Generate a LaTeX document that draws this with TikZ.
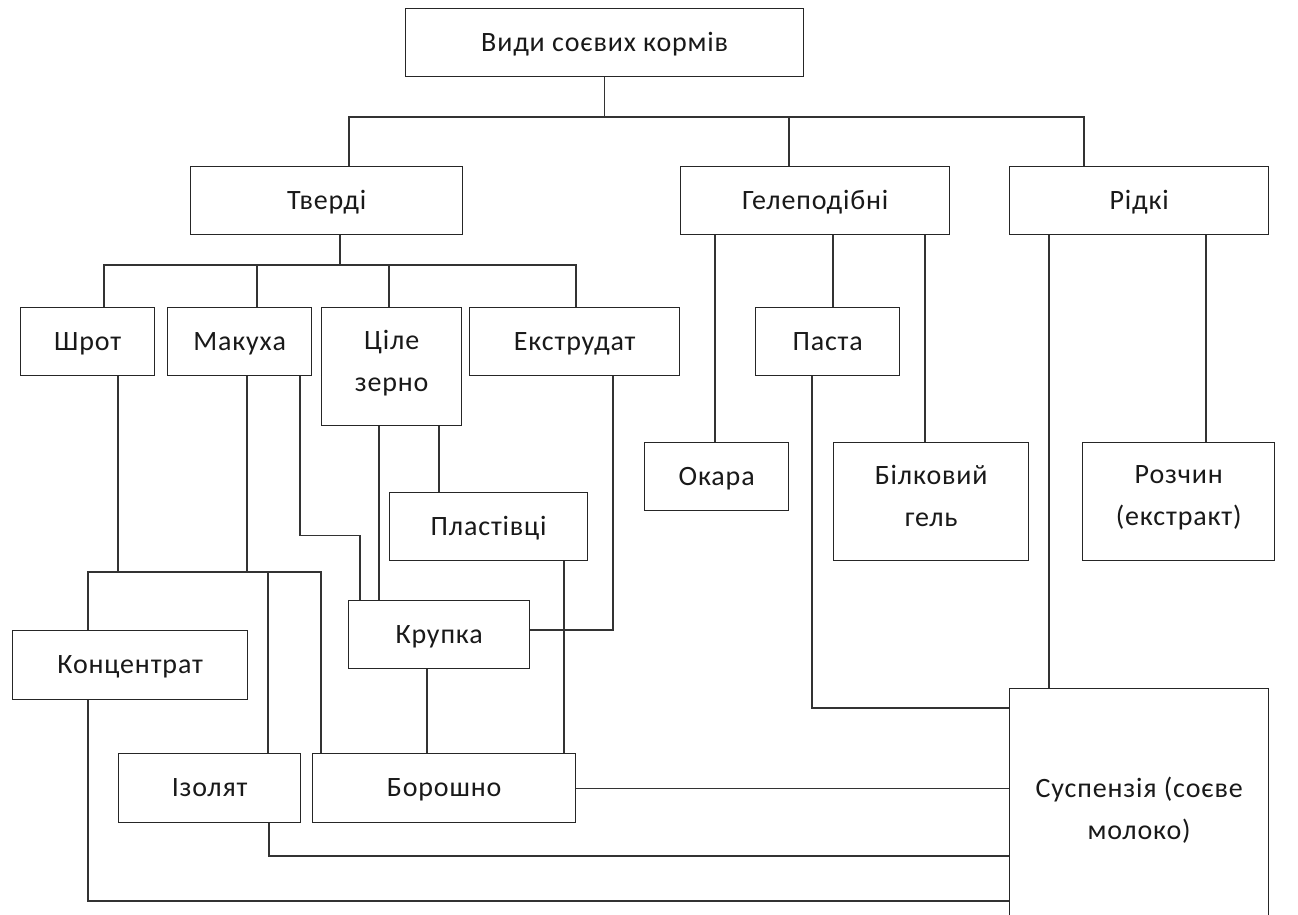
\documentclass[tikz,border=0pt]{standalone}
\usepackage{fontspec}
\setmainfont{Carlito}[LetterSpace=3]
\usetikzlibrary{calc}
\tikzset{
  box/.style={draw=black!85, line width=1.4pt, inner sep=0pt, align=center, anchor=north west,
    font=\fontsize{28}{42}\selectfont, text=black!90},
  conn/.style={draw=black!80, line width=1.3pt}
}
\begin{document}
\begin{tikzpicture}[x=1pt, y=-1pt]
\clip (0,0) rectangle (1298,915);
\fill[white] (0,0) rectangle (1298,915);
% boxes
\node[box, minimum width=398pt, minimum height=68pt] (root) at (405,8) {Види соєвих кормів\strut};
\node[box, minimum width=272pt, minimum height=68pt] (tverdi) at (190,166) {Тверді\strut};
\node[box, minimum width=269pt, minimum height=68pt] (gel) at (680,166) {Гелеподібні\strut};
\node[box, minimum width=259pt, minimum height=68pt] (ridki) at (1009,166) {Рідкі\strut};
\node[box, minimum width=134pt, minimum height=68pt] (shrot) at (20,307) {Шрот\strut};
\node[box, minimum width=144pt, minimum height=68pt] (makukha) at (167,307) {Макуха\strut};
\node[box, minimum width=140pt, minimum height=118pt] (zerno) at (321,307) {Ціле\\зерно\strut};
\node[box, minimum width=210pt, minimum height=68pt] (ekstr) at (469,307) {Екструдат\strut};
\node[box, minimum width=144pt, minimum height=68pt] (pasta) at (755,307) {Паста\strut};
\node[box, minimum width=144pt, minimum height=68pt] (okara) at (644,442) {Окара\strut};
\node[box, minimum width=195pt, minimum height=118pt] (bilok) at (833,442) {Білковий\\гель\strut};
\node[box, minimum width=192pt, minimum height=118pt] (rozchyn) at (1082,442) {Розчин\\(екстракт)\strut};
\node[box, minimum width=198pt, minimum height=68pt] (plast) at (389,492) {Пластівці\strut};
\node[box, minimum width=181pt, minimum height=68pt] (krupka) at (348,600) {Крупка\strut};
\node[box, minimum width=235pt, minimum height=69pt] (konc) at (12,630) {Концентрат\strut};
\node[box, minimum width=182pt, minimum height=69pt] (izolyat) at (118,753) {Ізолят\strut};
\node[box, minimum width=263pt, minimum height=69pt] (boroshno) at (312,753) {Борошно\strut};
\node[box, minimum width=259pt, minimum height=252pt] (susp) at (1009,688) {Суспензія (соєве\\молоко)\strut};
% level 1
\draw[conn] (root.south) -- ++(0,41);
\draw[conn] ($(tverdi.north west)+(159,0)$) -- ++(0,-49) -| ($(ridki.north west)+(75,0)$);
\draw[conn] ($(gel.north west)+(109,0)$) -- ++(0,-49);
% level 2
\draw[conn] ($(tverdi.south west)+(150,0)$) -- ++(0,31);
\draw[conn] ($(shrot.north west)+(84,0)$) -- ++(0,-42) -| ($(ekstr.north west)+(107,0)$);
\draw[conn] ($(makukha.north west)+(90,0)$) -- ++(0,-42);
\draw[conn] ($(zerno.north west)+(68,0)$) -- ++(0,-42);
% gel
\draw[conn] ($(gel.south west)+(35,0)$) -- ($(okara.north west)+(71,0)$);
\draw[conn] ($(gel.south west)+(153,0)$) -- ($(pasta.north west)+(78,0)$);
\draw[conn] ($(gel.south west)+(245,0)$) -- ($(bilok.north west)+(92,0)$);
% ridki
\draw[conn] ($(ridki.south west)+(40,0)$) -- ($(susp.north west)+(40,0)$);
\draw[conn] ($(ridki.south west)+(197,0)$) -- ($(rozchyn.north west)+(124,0)$);
% pasta to suspension
\draw[conn] ($(pasta.south west)+(57,0)$) |- ($(susp.north west)+(0,20)$);
% ekstrudat to krupka
\draw[conn] ($(ekstr.south west)+(144,0)$) |- ($(krupka.north east)+(0,30)$);
% zerno
\draw[conn] ($(zerno.south west)+(58,0)$) -- ($(krupka.north west)+(31,0)$);
\draw[conn] ($(zerno.south west)+(118,0)$) -- ($(plast.north west)+(50,0)$);
% makukha to krupka
\draw[conn] ($(makukha.south west)+(133,0)$) -- ++(0,159) -| ($(krupka.north west)+(12,0)$);
% plastivtsi, krupka to boroshno
\draw[conn] ($(plast.south west)+(175,0)$) -- ($(boroshno.north west)+(252,0)$);
\draw[conn] ($(krupka.south west)+(79,0)$) -- ($(boroshno.north west)+(115,0)$);
% shrot / makukha bus
\draw[conn] ($(shrot.south west)+(98,0)$) -- ++(0,197);
\draw[conn] ($(makukha.south west)+(80,0)$) -- ++(0,197);
\draw[conn] ($(konc.north west)+(76,0)$) -- ++(0,-58) -| ($(boroshno.north west)+(9,0)$);
\draw[conn] ($(izolyat.north west)+(150,0)$) -- ++(0,-181);
% to suspension
\draw[conn] (boroshno.east) -- (boroshno.east -| susp.west);
\draw[conn] ($(izolyat.south west)+(151,0)$) |- ($(susp.north west)+(0,168)$);
\draw[conn] ($(konc.south west)+(76,0)$) |- ($(susp.north west)+(0,213)$);
\end{tikzpicture}
\end{document}
